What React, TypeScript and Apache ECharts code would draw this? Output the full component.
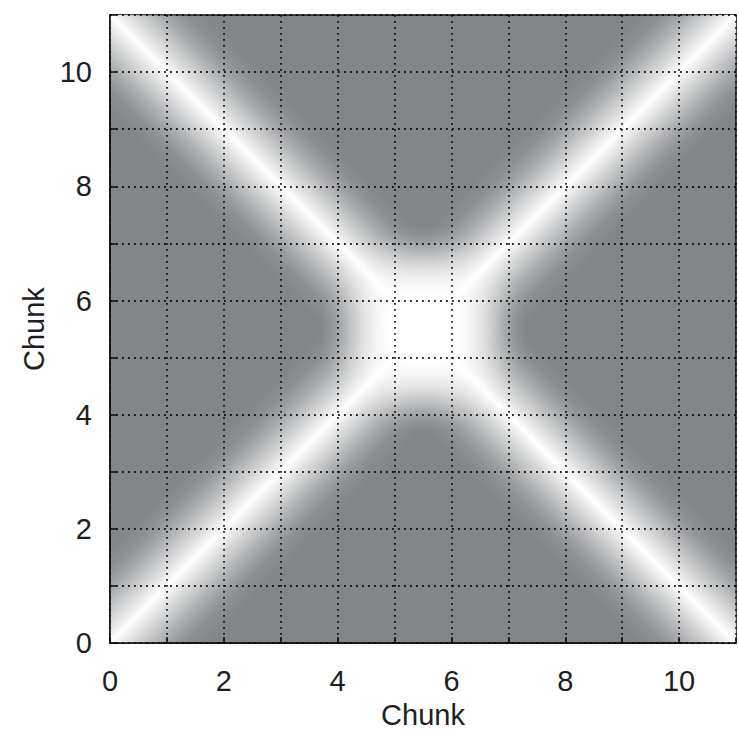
import React, { useEffect, useRef } from "react";
import * as echarts from "echarts";

// ---- data ----
const axisMin = 0;
const axisMax = 11;
const tickLabels = ["0", "2", "4", "6", "8", "10"];
// two bright diagonal bands (chunk similarity): start -> end
const bandFrom = [
  [0, 0],
  [0, 11],
];
const bandTo = [
  [11, 11],
  [11, 0],
];
// crossing point of the bands (bright plateau)
const crossCenter = [[5.5, 5.5]];

// ---- styles ----
const BASE_GRAY = "#838689";
const BAND_HALF = 70; // px, half width of a band
const BAND_PROFILE: [number, number][] = [
  [0, 1],
  [5, 0.9],
  [11, 0.78],
  [17, 0.67],
  [23, 0.56],
  [29, 0.45],
  [35, 0.34],
  [41, 0.24],
  [47, 0.16],
  [54, 0.08],
  [62, 0.03],
  [70, 0],
];
const HALO_RADIUS = 1.8; // in axis units
const HALO_STOPS: [number, number][] = [
  [0, 1],
  [0.3, 1],
  [0.44, 0.82],
  [0.58, 0.58],
  [0.72, 0.34],
  [0.86, 0.13],
  [1, 0],
];
const FONT = "Liberation Sans, Arial, Helvetica, sans-serif";
const TEXT = "#1e1e1e";

function bandStops() {
  const stops: { offset: number; color: string }[] = [];
  const rev = [...BAND_PROFILE].reverse();
  rev.forEach(([d, a]) => stops.push({ offset: 0.5 - d / (2 * BAND_HALF), color: `rgba(255,255,255,${a})` }));
  BAND_PROFILE.slice(1).forEach(([d, a]) =>
    stops.push({ offset: 0.5 + d / (2 * BAND_HALF), color: `rgba(255,255,255,${a})` })
  );
  return stops;
}

export default function App() {
  const ref = useRef<HTMLDivElement>(null);
  useEffect(() => {
    if (!ref.current) return;
    const chart = echarts.init(ref.current, undefined, { renderer: "svg" });
    const bands = bandFrom.map((f, i) => [f[0], f[1], bandTo[i][0], bandTo[i][1]]);
    const stops = bandStops();
    const axisCommon = {
      type: "value",
      min: axisMin,
      max: axisMax,
      interval: 1,
      z: 10,
      nameLocation: "middle",
      nameTextStyle: { fontSize: 29, color: TEXT, fontFamily: FONT },
      axisLine: { show: true, lineStyle: { color: "#111", width: 1.5 } },
      axisTick: { show: true, inside: true, length: 6, lineStyle: { color: "#111", width: 1.5 } },
      axisLabel: {
        fontSize: 29,
        color: TEXT,
        fontFamily: FONT,
        formatter: (v: number) => (tickLabels.includes(String(v)) ? String(v) : ""),
      },
      splitLine: { show: true, lineStyle: { color: "#000", width: 1.8, type: [1.8, 4.2], opacity: 0.85 } },
    };
    chart.setOption({
      animation: false,
      grid: {
        left: 110,
        top: 15,
        width: 634,
        height: 636,
        show: true,
        backgroundColor: BASE_GRAY,
        borderColor: "#111",
        borderWidth: 1.5,
        containLabel: false,
      },
      xAxis: {
        ...axisCommon,
        name: "Chunk",
        nameGap: 55,
        axisLabel: { ...axisCommon.axisLabel, margin: 23 },
      },
      yAxis: {
        ...axisCommon,
        name: "Chunk",
        nameGap: 62,
        axisLabel: { ...axisCommon.axisLabel, margin: 18 },
      },
      series: [
        {
          type: "custom",
          clip: true,
          z: 2,
          data: crossCenter,
          encode: { x: 0, y: 1 },
          renderItem: (params: any, api: any) => {
            const c = api.coord([api.value(0), api.value(1)]);
            const e = api.coord([api.value(0) + HALO_RADIUS, api.value(1)]);
            const r = Math.abs(e[0] - c[0]);
            return {
              type: "circle",
              shape: { cx: c[0], cy: c[1], r },
              style: {
                fill: {
                  type: "radial",
                  x: 0.5,
                  y: 0.5,
                  r: 0.5,
                  colorStops: HALO_STOPS.map(([o, a]) => ({ offset: o, color: `rgba(255,255,255,${a})` })),
                },
              },
            };
          },
        },
        {
          type: "custom",
          clip: true,
          z: 3,
          data: bands,
          encode: { x: [0, 2], y: [1, 3] },
          renderItem: (params: any, api: any) => {
            const a = api.coord([api.value(0), api.value(1)]);
            const b = api.coord([api.value(2), api.value(3)]);
            const dx = b[0] - a[0];
            const dy = b[1] - a[1];
            const L = Math.hypot(dx, dy);
            const ux = dx / L;
            const uy = dy / L;
            const nx = -uy;
            const ny = ux;
            const W = BAND_HALF;
            const E = 150;
            const pts = [
              [a[0] - ux * E + nx * W, a[1] - uy * E + ny * W],
              [b[0] + ux * E + nx * W, b[1] + uy * E + ny * W],
              [b[0] + ux * E - nx * W, b[1] + uy * E - ny * W],
              [a[0] - ux * E - nx * W, a[1] - uy * E - ny * W],
            ];
            return {
              type: "polygon",
              shape: { points: pts },
              style: {
                fill: {
                  type: "linear",
                  global: true,
                  x: a[0] - nx * W,
                  y: a[1] - ny * W,
                  x2: a[0] + nx * W,
                  y2: a[1] + ny * W,
                  colorStops: stops,
                },
              },
            };
          },
        },
      ],
    });
    return () => chart.dispose();
  }, []);
  return (
    <div
      ref={ref}
      style={{ position: "fixed", left: 0, top: 0, width: 739, height: 734, background: "#fff" }}
    />
  );
}
